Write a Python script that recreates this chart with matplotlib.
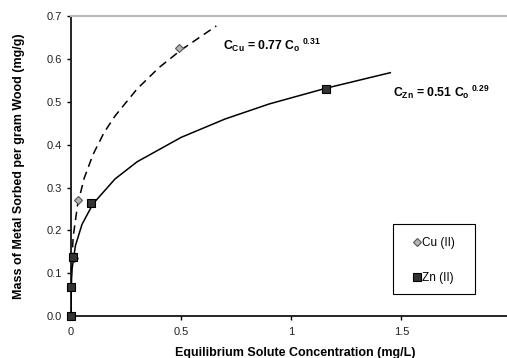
import matplotlib
matplotlib.use('Agg')
import matplotlib.pyplot as plt
from matplotlib.patches import Rectangle

# measured points
cu_x = [0.015, 0.03, 0.49]
cu_y = [0.135, 0.272, 0.625]
zn_x = [0.0, 0.0, 0.007, 0.093, 1.16]
zn_y = [0.0, 0.068, 0.137, 0.263, 0.531]

# trend lines
cu_fit_x = [0.0, 0.002, 0.01, 0.03, 0.06, 0.1, 0.15, 0.2, 0.3, 0.4, 0.5, 0.66]
cu_fit_y = [0.0, 0.112, 0.185, 0.260, 0.322, 0.377, 0.428, 0.467, 0.530, 0.580, 0.621, 0.677]
zn_fit_x = [0.0, 0.001, 0.005, 0.02, 0.05, 0.1, 0.2, 0.3, 0.5, 0.7, 0.9, 1.16, 1.45]
zn_fit_y = [0.0, 0.069, 0.110, 0.164, 0.214, 0.262, 0.320, 0.360, 0.417, 0.460, 0.495, 0.532, 0.568]

x_ticks = [0, 0.5, 1, 1.5]
x_labels = ['0', '0.5', '1', '1.5']
y_ticks = [0.0, 0.1, 0.2, 0.3, 0.4, 0.5, 0.6, 0.7]

plt.rcParams['font.family'] = ['Liberation Sans', 'DejaVu Sans']
plt.rcParams['mathtext.fontset'] = 'custom'
plt.rcParams['mathtext.rm'] = 'Liberation Sans:bold'
plt.rcParams['mathtext.it'] = 'Liberation Sans:bold'
plt.rcParams['mathtext.bf'] = 'Liberation Sans:bold'

fig = plt.figure(figsize=(5.07, 3.58), dpi=100)
ax = fig.add_axes([0.140, 0.117, 0.860, 0.838])

ax.plot(cu_fit_x, cu_fit_y, color='black', lw=1.1, ls=(0, (5.5, 3.5)))
ax.plot(zn_fit_x, zn_fit_y, color='black', lw=1.1)
ax.plot(cu_x, cu_y, 'D', ms=4.5, mfc='#b4b4b4', mec='#555555', mew=0.8, label='Cu (II)',
        zorder=4, clip_on=False)
ax.plot(zn_x, zn_y, 's', ms=6, mfc='#333333', mec='black', mew=0.8, label='Zn (II)',
        zorder=5, clip_on=False)

ax.set_xlim(0, 1.98)
ax.set_ylim(0, 0.7)
ax.set_xticks(x_ticks)
ax.set_xticklabels(x_labels)
ax.set_yticks(y_ticks)
ax.set_yticklabels([f'{v:.1f}' for v in y_ticks])
ax.tick_params(labelsize=8, labelcolor='#222222', length=3, width=1, direction='out')
ax.tick_params(axis='x', pad=5)

ax.spines['right'].set_visible(False)
ax.spines['top'].set_color('#b8b8b8')
ax.spines['top'].set_linewidth(1.5)
ax.spines['left'].set_linewidth(1.2)
ax.spines['bottom'].set_linewidth(1.2)

ax.set_xlabel('Equilibrium Solute Concentration (mg/L)', fontsize=9, fontweight='bold')
ax.set_ylabel('Mass of Metal Sorbed per gram Wood (mg/g)', fontsize=9, fontweight='bold')
ax.xaxis.set_label_coords(0.515, -0.103)
ax.yaxis.set_label_coords(-0.106, 0.5)

ax.text(0.69, 0.632, r'C$_{Cu}$ = 0.77 C$_{o}$$^{\,\,0.31}$', fontsize=8.8, fontweight='bold', va='center')
ax.text(1.462, 0.523, r'C$_{Zn}$ = 0.51 C$_{o}$$^{\,\,0.29}$', fontsize=8.8, fontweight='bold', va='center')

leg = ax.legend(loc='center', bbox_to_anchor=(0.833, 0.185), fontsize=8.5, frameon=False,
                labelspacing=1.9, handlelength=0.6, handletextpad=0.2, numpoints=1)
ax.add_patch(Rectangle((0.7385, 0.0733), 0.188, 0.233, transform=ax.transAxes,
                       fill=False, edgecolor='black', lw=0.8, zorder=6))

fig.savefig('out.png', dpi=100)
